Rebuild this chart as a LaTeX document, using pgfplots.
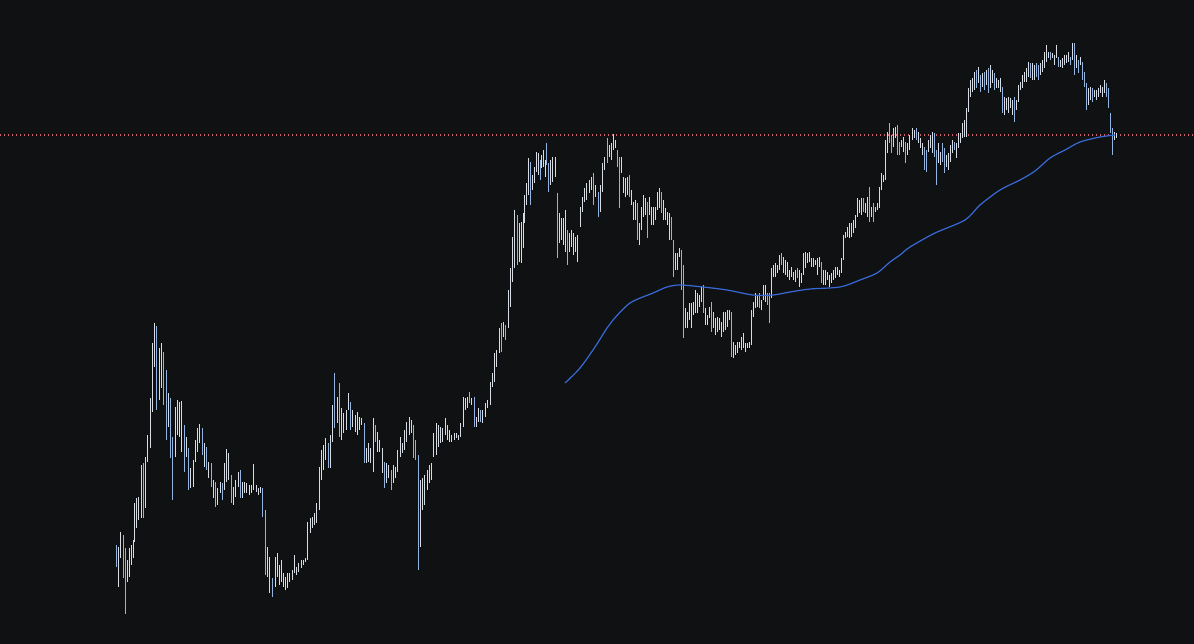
\documentclass[border=0pt]{standalone}
\usepackage{pgfplots}
\usepackage{pgfplotstable}
\pgfplotsset{compat=1.18}
\definecolor{bgc}{RGB}{16,17,19}
\definecolor{upc}{RGB}{215,220,228}
\definecolor{dnc}{RGB}{145,180,225}
\definecolor{mac}{RGB}{55,105,215}
\definecolor{dotc}{RGB}{205,95,110}
\pgfplotstableread{
x t b d
116 545 567 1
118 547 587 0
120 532 558 0
123 535 578 1
125 548 614 1
127 560 582 0
129 548 577 0
131 545 565 0
133 540 558 0
134.5 503 542 0
136 498 528 0
138 497 520 0
141 465 518 0
143 463 518 1
145 457 508 0
147 435 462 0
150 398 448 0
152 343 412 0
154 323 367 0
156 326 410 1
159 348 400 0
161 343 388 0
163 352 405 1
166 370 440 1
168 393 427 0
170 398 458 1
172 437 500 1
175 407 457 0
177 400 435 0
179 402 437 0
181 401 452 0
184 425 472 1
186 437 457 0
188 448 490 1
190 468 488 0
193 460 487 0
195 440 462 0
197 428 452 0
199 424 443 0
202 428 455 1
204 443 467 0
206 447 470 1
208 462 478 0
211 463 487 1
213 480 498 0
215 482 507 1
217 488 505 0
220 482 493 0
222 483 500 1
224 463 490 0
226 449 482 0
228 453 480 0
231 475 503 1
233 487 505 0
235 480 497 0
238 472 487 0
240 470 498 1
242 482 498 0
244 482 493 0
246 483 493 0
249 485 495 0
251 485 493 0
253 464 490 0
256 485 492 0
258 488 495 0
260 487 493 0
262 488 517 1
265 510 575 1
267 547 577 0
269 557 593 0
272 578 597 1
275 557 587 0
277 553 577 0
279 565 585 0
281 560 582 0
283 573 587 0
285 577 590 0
287 573 588 0
289 573 582 0
292 570 580 0
294 555 573 0
296 567 575 0
298 563 572 0
301 560 568 0
303 560 565 0
305 558 562 0
307 522 560 0
310 518 533 0
312 517 528 0
314 513 525 0
316 503 523 0
319 467 510 0
321 450 480 0
323 445 470 0
325 438 460 0
328 443 468 1
330 435 468 0
332 405 442 0
334 373 428 1
337 397 423 0
339 383 437 1
341 408 440 0
343 413 433 0
346 410 430 0
348 393 410 0
350 402 430 1
352 410 427 0
355 415 432 0
357 412 435 0
359 417 430 0
361 418 425 0
364 423 463 1
366 448 463 0
368 443 462 0
370 448 463 0
373 418 472 0
375 425 442 1
377 432 452 0
379 440 452 0
382 448 473 0
384 462 488 1
386 463 483 0
388 465 478 0
391 470 490 1
393 465 483 0
395 467 478 0
397 450 472 0
400 437 457 0
402 443 453 0
404 430 450 0
406 422 442 0
409 417 435 0
411 420 433 0
413 425 458 1
415.5 440 460 1
418 455 570 1
420 480 547 0
422 478 510 0
424 475 505 0
427 470 490 0
429 465 483 0
431 463 480 0
433 433 457 0
436 423 455 0
438 425 447 0
440 427 443 0
442 428 442 0
445 418 435 0
447 425 440 0
449 430 442 0
451 435 442 0
454 433 440 0
456 433 438 0
458 435 440 0
460 423 437 0
463 397 427 0
465 398 410 0
467 397 408 0
469 392 403 1
471 398 405 0
474 397 427 1
476 417 427 0
478 408 422 0
480 410 422 1
482 410 423 0
485 403 417 0
487 400 408 0
490 382 405 0
492 373 387 0
494 353 382 0
496 350 367 0
499 328 353 0
501 323 352 1
503 322 337 0
505 325 340 1
508 290 328 0
510 268 307 0
512 237 282 0
514 210 268 0
517 215 265 1
519 223 262 0
521 222 263 0
523 213 248 0
524.8 195 223 0
526.5 183 205 0
528.3 158 195 0
530.3 162 205 1
532.3 175 190 0
534.3 167 183 0
536 152 172 0
538 153 175 0
540 160 180 1
541.7 155 168 0
543.3 150 167 0
545 160 177 0
546.6 143 165 1
548.3 163 192 1
550 160 185 0
552.3 157 182 0
555 157 177 0
557 193 258 1
559 213 243 0
561 218 240 0
563 218 245 0
565 210 252 0
567 230 265 1
569 233 252 0
571 230 247 0
573 233 255 0
575 237 252 0
577 235 262 0
580 207 227 0
582 197 212 0
584 188 202 0
586 183 200 0
589 180 193 0
591 177 190 0
593 173 205 1
595 185 197 0
598 192 217 1
600 185 212 0
602 163 192 0
604 157 170 0
607 138 163 1
609 145 157 0
611 143 160 0
613 134 150 0
615 140 148 0
617 150 167 1
619 157 208 1
621 157 173 0
623 177 193 0
625 178 197 0
627 177 195 0
629 175 197 1
631 190 205 0
633 202 220 0
635 200 220 0
637 203 240 1
639 223 245 0
641 207 230 0
643 195 217 0
645 198 215 0
647 202 238 1
649 197 215 0
651 207 225 0
653 207 225 0
655 207 220 0
657 192 210 0
659 188 208 0
661 192 213 1
663 200 220 0
665 208 220 0
667 212 225 0
669 213 240 0
671 217 240 1
673 240 277 1
675 253 270 0
677 253 270 0
679 248 257 0
681 250 290 1
683 265 338 1
685 308 328 0
687 312 328 0
689 303 320 0
691 303 328 0
693 302 315 0
695 290 313 0
697 293 313 0
699 295 307 0
701 287 302 0
703 285 313 1
705 308 325 0
707 315 325 0
709 307 318 0
711 302 332 1
713 312 328 0
715 318 335 0
717 317 332 0
719 318 330 0
721 322 337 0
723 312 332 0
725 312 330 0
727 310 327 0
729 310 320 0
731 312 357 1
733 342 358 0
735 345 355 0
737 342 353 0
739 342 348 0
741 337 350 0
743 333 348 0
745 343 352 0
747 343 348 0
749 342 348 0
751 310 345 0
753 302 317 0
755 293 308 0
757 295 307 0
759 293 308 1
761 300 310 0
763 285 300 0
765 285 302 0
767 293 305 1
769 293 323 1
771 268 298 0
773 265 277 0
775 263 277 0
777 265 273 0
779 255 270 0
781 253 265 1
783 257 273 0
785 260 275 0
787 262 277 0
789 270 280 0
791 267 277 0
793 272 280 0
795 270 282 0
797 268 278 1
799 270 287 0
801 273 283 0
803 253 275 0
805 252 268 0
807 253 263 0
809 252 262 0
811 258 267 0
813 258 267 0
815 260 265 0
817 258 275 0
819 257 267 0
821 262 283 1
823 270 285 0
825 270 285 0
827 272 280 0
829 275 287 0
831 273 283 0
833 270 280 0
835 267 278 0
837 267 275 0
839 270 277 0
841 258 273 0
843 235 260 0
845 232 238 0
847 227 237 0
849 223 238 0
851 223 237 0
853 220 233 0
855 215 228 0
857 198 217 0
859 200 213 0
861 198 215 0
863 198 212 1
865 203 213 0
867 197 217 0
869 187 222 1
871 207 217 0
873 203 222 1
875 207 212 0
877 203 210 0
879 187 208 0
881 173 190 0
883 175 182 0
885 140 180 0
887 132 153 0
889 123 143 1
891 135 153 1
893 128 147 0
895 127 138 0
897 125 155 1
899 142 155 1
901 140 147 0
903 137 152 0
905 142 163 1
907 143 155 0
909 135 150 0
912 128 140 0
914 130 138 0
916 128 140 1
918 132 143 0
920 138 148 0
922 143 155 0
924 147 170 1
926 150 172 1
928 140 152 0
930 135 148 0
932 132 153 0
934 133 157 1
936 150 185 1
938 143 163 0
940 152 165 0
942 143 162 1
944 148 173 1
946 155 167 0
948 153 170 0
950 145 162 0
952 140 153 0
954 142 150 1
956 143 158 0
958 133 148 0
960 133 143 0
962 123 138 0
964 120 137 0
966 108 137 0
968 88 112 0
970 80 97 0
972 78 92 0
974 72 90 0
976 70 88 1
978 67 83 0
980 75 92 1
982 73 87 0
984 72 90 1
986 70 85 0
988 68 93 1
990 65 88 0
992 70 83 0
994 73 90 1
996 78 88 0
998 80 88 0
1000 78 92 0
1002 87 113 1
1004 97 115 0
1006 98 110 0
1008 97 113 0
1010 98 108 0
1012 100 115 0
1014 97 122 1
1016 100 110 0
1018 85 102 0
1020 82 90 0
1022 75 88 0
1024 72 82 0
1026 68 82 0
1028 62 77 0
1030 63 78 1
1032 63 80 0
1034 65 80 0
1036 63 77 1
1038 65 80 1
1040 63 75 0
1042 60 72 0
1044 52 68 0
1046 45 62 0
1048 52 58 0
1050 52 60 1
1052 53 58 0
1054 55 65 0
1056 45 58 0
1058 57 67 1
1060 60 67 0
1062 58 68 0
1064 55 65 0
1066 55 63 0
1068 52 62 0
1070 57 65 1
1072 43 60 0
1074 43 75 1
1076 55 68 0
1078 60 73 1
1080 57 65 0
1082 62 80 1
1084 72 87 1
1086 83 110 1
1088 88 105 0
1090 87 100 0
1092 88 102 1
1094 90 97 0
1096 90 100 0
1098 88 97 0
1100 85 93 0
1102 87 97 0
1104 80 93 0
1106 83 97 1
1108 88 108 1
1110 113 133 1
1112 128 155 1
1114 132 140 0
1116 133 138 0
}\bars
\begin{document}
\begin{tikzpicture}
\begin{axis}[
  scale only axis, width=1194bp, height=644bp,
  xmin=0, xmax=1194, ymin=0, ymax=644, y dir=reverse,
  axis line style={draw=none}, ticks=none,
  axis background/.style={fill=bgc},
]
\addplot[dotc, line width=1.1bp, dash pattern=on 1.2bp off 2.8bp] coordinates {(0,135) (1194,135)};
\addplot[draw=none, mark=none, error bars/.cd, y dir=plus, y explicit, error mark=none,
  error bar style={draw=upc, line width=1bp, solid}]
  table[x=x, y=t, y error expr={(1-\thisrow{d})*(\thisrow{b}-\thisrow{t})}] {\bars};
\addplot[draw=none, mark=none, error bars/.cd, y dir=plus, y explicit, error mark=none,
  error bar style={draw=dnc, line width=1bp, solid}]
  table[x=x, y=t, y error expr={\thisrow{d}*(\thisrow{b}-\thisrow{t})}] {\bars};
\addplot[mac, line width=1.2bp, smooth] coordinates {
(565,383) (580,368) (595,347) (607,328) (613,320) (630,303) (653,293) (667,287)
(680,285) (703,287) (727,290) (753,295) (773,295) (790,292) (810,289) (840,287)
(860,280) (877,273) (890,262) (900,255) (910,247) (935,233) (965,220) (980,205)
(1000,190) (1020,180) (1035,171) (1050,158) (1065,150) (1080,142) (1100,137) (1115,135)
};
\end{axis}
\end{tikzpicture}
\end{document}
